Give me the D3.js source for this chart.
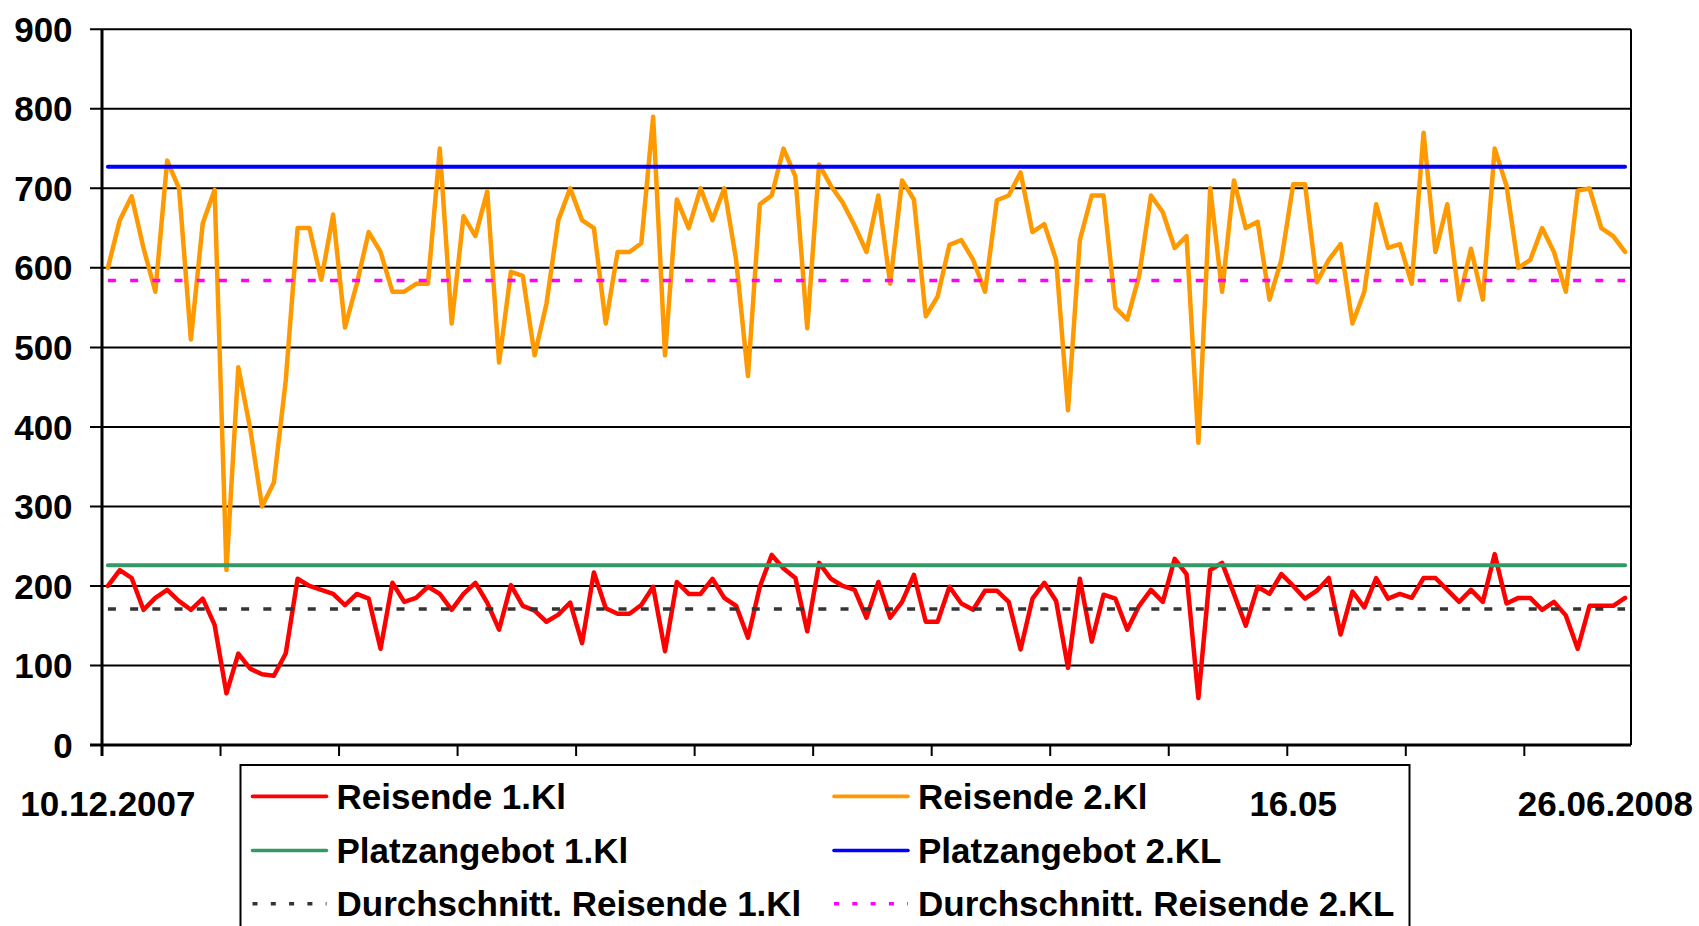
<!DOCTYPE html>
<html><head><meta charset="utf-8">
<script src="https://cdn.jsdelivr.net/npm/d3@7"></script>
<style>
html,body{margin:0;padding:0;background:#fff;}
svg{display:block;font-family:"Liberation Sans",Arial,sans-serif;font-weight:bold;}
</style>
</head><body>
<svg id="c" width="1699" height="926"></svg>
<script>
// ---- data ----
const reisende1 = [200,220,210,170,185,195,181,170,184,151,65,115,96,89,87,115,209,200,195,190,
176,190,184,121,204,180,185,199,190,170,190,204,179,145,201,175,169,155,164,179,
128,217,172,165,165,176,199,118,205,190,190,209,185,175,135,199,239,222,210,143,
229,209,200,195,160,205,160,180,214,155,155,199,178,170,194,194,180,120,184,204,
181,97,209,130,189,184,145,175,195,180,234,215,59,220,229,190,150,199,190,215,
200,184,194,210,139,193,173,210,184,190,185,210,210,195,180,195,180,240,178,185,
185,170,180,163,121,175,175,175,185];
const reisende2 = [600,660,690,625,570,735,700,510,656,698,220,475,398,300,330,458,650,650,585,667,
525,580,645,620,570,570,580,580,750,530,665,640,696,481,595,590,490,555,660,700,
660,650,530,620,620,631,790,490,686,650,700,660,700,610,464,680,691,750,715,524,
730,703,682,653,620,691,580,710,686,539,564,629,635,610,570,685,691,720,645,655,
610,421,635,691,691,550,535,590,691,670,625,640,380,700,570,710,650,658,560,610,
705,705,582,610,630,530,570,680,625,630,580,770,620,680,560,624,560,750,703,600,
610,650,620,570,697,700,650,640,620];
const platzangebot1 = 226;
const platzangebot2 = 727;
const durchschnitt1 = 171;
const durchschnitt2 = 584;
const yTickValues = [0,100,200,300,400,500,600,700,800,900];
const xTickEvery = 10;
const xLabelIndex = [0,100,128];
const xLabelText = ["10.12.2007","16.05","26.06.2008"];
const legendNames = ["Reisende 1.Kl","Reisende 2.Kl","Platzangebot 1.Kl","Platzangebot 2.KL","Durchschnitt. Reisende 1.Kl","Durchschnitt. Reisende 2.KL"];
const legendColors = ["#ff0000","#ff9900","#339966","#0000ff","#333333","#ff00ff"];
const legendDashed = [false,false,false,false,true,true];

// ---- layout ----
const L = 102, R = 1631, T = 29.3, B = 745;
const svg = d3.select("#c");
const idx = d3.range(reisende2.length);
const x = d3.scaleBand().domain(idx).range([L, R]).padding(0);
const xc = i => x(i) + x.bandwidth()/2;
const y = d3.scaleLinear().domain([0, 900]).range([B, T]);

// gridlines
svg.append("g").selectAll("line").data(yTickValues).join("line")
  .attr("x1", L - 12).attr("x2", R).attr("y1", d => y(d)).attr("y2", d => y(d))
  .attr("stroke", "#000").attr("stroke-width", 2);
// right border
svg.append("line").attr("x1", R).attr("x2", R).attr("y1", y(900)).attr("y2", y(0))
  .attr("stroke", "#000").attr("stroke-width", 2);

// y labels
svg.append("g").selectAll("text").data(yTickValues).join("text")
  .attr("x", 72.6).attr("y", d => y(d)).attr("dy", "0.36em")
  .attr("text-anchor", "end").attr("font-size", 35).text(d => d);

// x ticks
const xt = idx.filter(i => i % xTickEvery === 0);
svg.append("g").selectAll("line").data(xt).join("line")
  .attr("x1", d => x(d)).attr("x2", d => x(d)).attr("y1", B).attr("y2", B + 11)
  .attr("stroke", "#000").attr("stroke-width", 2);

// series
const line = d3.line().x((d, i) => xc(i)).y(d => y(d));
function constLine(v, color, dash) {
  const p = svg.append("line").attr("x1", xc(0)).attr("x2", xc(idx.length - 1))
    .attr("y1", y(v)).attr("y2", y(v)).attr("stroke", color)
    .attr("stroke-width", dash ? 3.5 : 4).attr("stroke-linecap", dash ? "butt" : "round");
  if (dash) p.attr("stroke-dasharray", "8,14.2");
}
svg.append("path").datum(reisende1).attr("d", line).attr("fill", "none")
  .attr("stroke", legendColors[0]).attr("stroke-width", 4.5).attr("stroke-linejoin", "round").attr("stroke-linecap", "round");
svg.append("path").datum(reisende2).attr("d", line).attr("fill", "none")
  .attr("stroke", legendColors[1]).attr("stroke-width", 4.5).attr("stroke-linejoin", "round").attr("stroke-linecap", "round");
constLine(platzangebot1, legendColors[2], false);
constLine(platzangebot2, legendColors[3], false);
constLine(durchschnitt1, legendColors[4], true);
constLine(durchschnitt2, legendColors[5], true);

// axes lines
svg.append("line").attr("x1", L).attr("x2", L).attr("y1", y(900)).attr("y2", B + 11)
  .attr("stroke", "#000").attr("stroke-width", 3);
svg.append("line").attr("x1", L - 12).attr("x2", R).attr("y1", B).attr("y2", B)
  .attr("stroke", "#000").attr("stroke-width", 3);

// legend
const lg = svg.append("g");
lg.append("rect").attr("x", 240.5).attr("y", 765).attr("width", 1169).attr("height", 200)
  .attr("fill", "#fff").attr("stroke", "#000").attr("stroke-width", 2);
const colX = [252.5, 834], rowY = [796.4, 850.5, 903.7];
legendNames.forEach((name, k) => {
  const cx = colX[k % 2], cy = rowY[Math.floor(k / 2)];
  const ln = lg.append("line").attr("x1", cx).attr("x2", cx + 74).attr("y1", cy).attr("y2", cy)
    .attr("stroke", legendColors[k]).attr("stroke-width", 3.6)
    .attr("stroke-linecap", legendDashed[k] ? "butt" : "round");
  if (legendDashed[k]) ln.attr("stroke-dasharray", "5,13.3");
  lg.append("text").attr("x", 336.5 - 252.5 + cx).attr("y", cy).attr("dy", "0.36em")
    .attr("font-size", 35).text(name);
});

// x labels (drawn last)
const xl = svg.append("g");
xLabelIndex.forEach((i, k) => {
  const t = xl.append("text").attr("y", 803).attr("dy", "0.36em").attr("font-size", 35)
    .attr("text-anchor", "middle").attr("x", xc(i)).text(xLabelText[k]);
  const w = t.node().getComputedTextLength();
  let cx = xc(i);
  if (cx + w / 2 > 1693) cx = 1693 - w / 2;
  if (cx - w / 2 < 2) cx = 2 + w / 2;
  t.attr("x", cx);
});
</script>
</body></html>
